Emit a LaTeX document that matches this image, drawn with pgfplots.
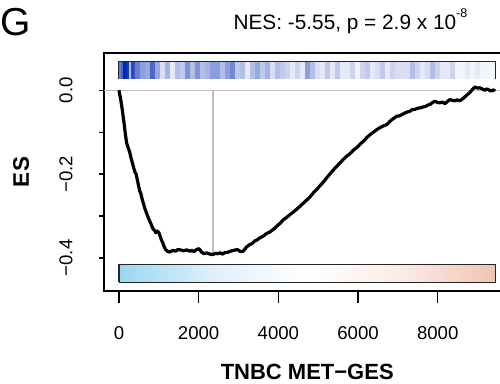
\documentclass[border=0pt]{standalone}
\usepackage{pgfplots}
\pgfplotsset{compat=1.18}
\usepackage{pgfplotstable}
\usepackage{fontspec}
\setmainfont{Liberation Sans}
\pgfplotsset{
  colormap={stripes}{rgb255=(255,255,255) rgb255=(0,40,180)},
  colormap={grad}{rgb255=(155,215,240) rgb255=(222,240,250) rgb255=(255,255,255) rgb255=(250,236,230) rgb255=(240,196,178)},
}
\pgfplotstableread{
x c
25 0.6
75 0.7
125 1.0
176 1.0
226 0.9
276 0.3
326 0.85
376 0.8
}\stripesA
\pgfplotstableread{
x c
464 0.6
590 0.45
715 0.4
841 0.7
966 0.4
1092 0.15
1217 0.35
1343 0.1
1468 0.3
1594 0.25
1719 0.5
1845 0.3
1970 0.5
2096 0.3
2221 0.35
2347 0.45
2472 0.45
2598 0.3
2723 0.45
2849 0.55
2974 0.25
3100 0.3
3225 0.1
3351 0.3
3476 0.4
3602 0.25
3727 0.35
3853 0.15
3978 0.3
4104 0.25
4229 0.2
4355 0.1
4480 0.2
4606 0.1
4731 0.45
4857 0.3
4982 0.15
5108 0.1
5233 0.25
5359 0.1
5484 0.25
5610 0.1
5735 0.1
5861 0.2
5986 0.05
6112 0.2
6237 0.25
6363 0.1
6488 0.15
6614 0.25
6739 0.1
6865 0.2
6990 0.15
7116 0.15
7241 0.15
7367 0.3
7492 0.2
7618 0.1
7743 0.15
7869 0.3
7994 0.2
8120 0.1
8245 0.1
8371 0.2
8496 0.05
8622 0.05
8747 0.1
8873 0.05
8998 0.1
9124 0.05
9249 0.05
9375 0.03
}\stripesB
\pgfplotstableread{
x y
0 0.000
40 -0.020
83 -0.046
110 -0.066
130 -0.080
160 -0.104
193 -0.126
240 -0.140
265 -0.146
294 -0.158
350 -0.178
400 -0.195
430 -0.200
459 -0.213
520 -0.240
550 -0.247
585 -0.261
650 -0.282
700 -0.295
753 -0.308
800 -0.318
850 -0.330
890 -0.334
921 -0.340
960 -0.336
1004 -0.340
1060 -0.356
1100 -0.364
1129 -0.372
1170 -0.380
1212 -0.384
1280 -0.386
1350 -0.382
1420 -0.384
1480 -0.380
1548 -0.381
1620 -0.383
1700 -0.381
1780 -0.384
1830 -0.382
1882 -0.385
1950 -0.380
2008 -0.378
2070 -0.386
2133 -0.390
2200 -0.388
2280 -0.391
2359 -0.392
2420 -0.389
2467 -0.390
2540 -0.388
2600 -0.391
2660 -0.387
2718 -0.387
2800 -0.384
2880 -0.382
2969 -0.380
3050 -0.385
3119 -0.384
3200 -0.374
3287 -0.368
3340 -0.366
3400 -0.360
3470 -0.357
3538 -0.352
3620 -0.348
3700 -0.342
3790 -0.338
3872 -0.332
4000 -0.321
4060 -0.316
4123 -0.309
4200 -0.304
4300 -0.296
4420 -0.287
4542 -0.277
4620 -0.270
4700 -0.263
4790 -0.255
4876 -0.245
4960 -0.237
5050 -0.227
5130 -0.219
5212 -0.209
5300 -0.199
5400 -0.188
5510 -0.177
5629 -0.165
5720 -0.157
5800 -0.151
5880 -0.143
5965 -0.137
6060 -0.128
6150 -0.120
6230 -0.112
6299 -0.106
6400 -0.099
6500 -0.092
6610 -0.086
6718 -0.082
6790 -0.075
6850 -0.070
6910 -0.066
6969 -0.062
7040 -0.061
7100 -0.058
7200 -0.053
7302 -0.050
7360 -0.046
7420 -0.046
7490 -0.043
7553 -0.042
7630 -0.040
7700 -0.038
7760 -0.035
7804 -0.034
7870 -0.029
7930 -0.026
7990 -0.029
8050 -0.030
8120 -0.028
8181 -0.032
8250 -0.026
8306 -0.022
8360 -0.024
8420 -0.025
8490 -0.023
8557 -0.025
8630 -0.020
8700 -0.014
8760 -0.009
8808 -0.005
8870 0.002
8934 0.008
8980 0.006
9020 0.005
9060 0.006
9102 0.004
9140 0.002
9180 0.000
9220 0.003
9268 0.002
9310 -0.001
9350 -0.001
9400 0.001
9435 -0.002
}\escurve
\begin{document}
\begin{tikzpicture}
\begin{axis}[
  at={(103.9pt,92pt)}, anchor=south west,
  scale only axis, width=406.7pt, height=238pt,
  xmin=-378, xmax=9828, ymin=-0.479, ymax=0.089,
  axis line style={line width=1.3pt, black},
  tick align=outside,
  xtick={0,2000,4000,6000,8000},
  xticklabels={0,2000,4000,6000,8000},
  ytick={-0.4,-0.2,0},
  yticklabels={−0.4,−0.2,0.0},
  minor ytick={-0.3,-0.1},
  xtick pos=bottom, ytick pos=left,
  major tick length=5pt, minor tick length=5pt,
  xtick style={/pgfplots/major tick length=12pt},
  tick style={line width=1.3pt, black},
  every tick label/.append style={font=\fontsize{18.6}{22}\selectfont, inner sep=0pt},
  xticklabel shift=30.7pt,
  yticklabel style={rotate=90, anchor=south},
  yticklabel shift=26.2pt,
  xlabel={TNBC MET−GES},
  ylabel={ES},
  every axis x label/.style={at={(axis description cs:0.5,-0.371)}, anchor=base, inner sep=0pt, font=\fontsize{22}{26}\selectfont\bfseries},
  every axis y label/.style={at={(axis description cs:-0.1832,0.5)}, rotate=90, anchor=south, inner sep=0pt, font=\fontsize{22.5}{26}\selectfont\bfseries},
  point meta min=0, point meta max=1,
  clip=false,
]
\addplot[color={rgb,255:red,190;green,190;blue,190}, line width=1.3pt] coordinates {(-378,0) (9828,0)};
\addplot[color={rgb,255:red,190;green,190;blue,190}, line width=1.3pt] coordinates {(2359,0) (2359,-0.391)};
\addplot[black, line width=3.2pt, line join=round] table[x=x, y=y] {\escurve};
% top stripe bar
\addplot[only marks, scatter, scatter src=explicit, colormap name=stripes,
  scatter/use mapped color={draw=mapped color, fill=mapped color},
  mark=|, mark size=8.4pt, mark options={line width=2.1pt}] table[x=x, y expr=0.048, meta=c] {\stripesA};
\addplot[only marks, scatter, scatter src=explicit, colormap name=stripes,
  scatter/use mapped color={draw=mapped color, fill=mapped color},
  mark=|, mark size=8.4pt, mark options={line width=5.2pt}] table[x=x, y expr=0.048, meta=c] {\stripesB};
\addplot[black!85, line width=1.2pt] coordinates {(0,0.028) (9450,0.028) (9450,0.068) (0,0.068) (0,0.028)};
% bottom gradient bar
\addplot[surf, shader=interp, colormap name=grad, point meta=explicit, mesh/cols=3] coordinates {
  (0,-0.458) [0] (4725,-0.458) [0.5] (9450,-0.458) [1]
  (0,-0.416) [0] (4725,-0.416) [0.5] (9450,-0.416) [1]
};
\addplot[black!85, line width=1.2pt] coordinates {(0,-0.458) (9450,-0.458) (9450,-0.416) (0,-0.416) (0,-0.458)};
\end{axis}
\node[anchor=base west, inner sep=0pt, font=\fontsize{39}{44}\selectfont] at (0pt,347pt) {G};
\node[anchor=base west, inner sep=0pt, font=\fontsize{20.8}{24}\selectfont] at (233.4pt,353pt) {NES: -5.55, p = 2.9 x 10\raisebox{0.62em}{\fontsize{12.5}{14}\selectfont -8}};
\pgfresetboundingbox
\useasboundingbox (0,0) rectangle (500pt,383pt);
\end{tikzpicture}
\end{document}
